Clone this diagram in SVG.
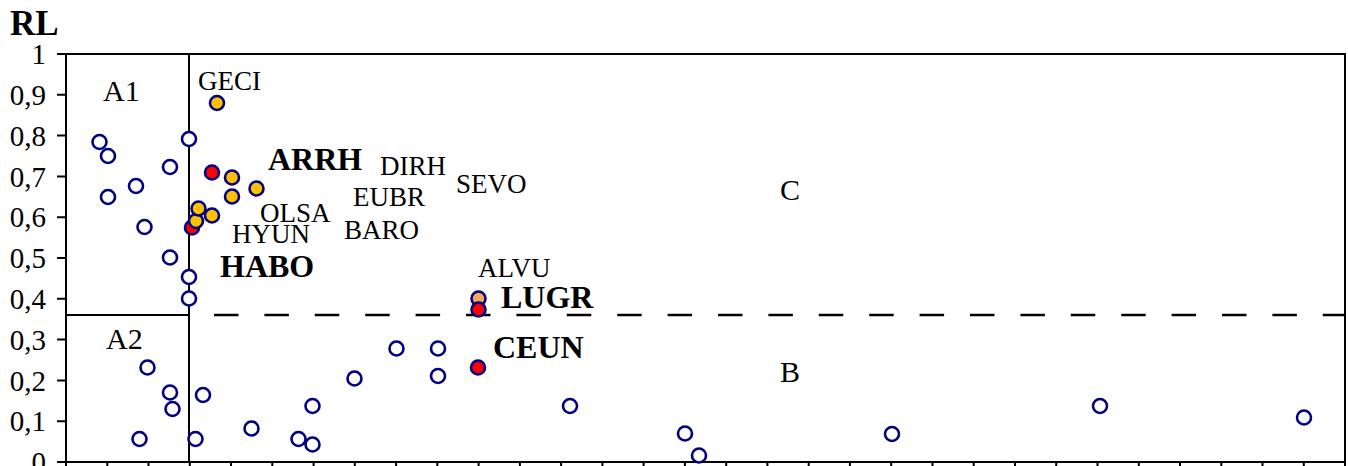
<svg xmlns="http://www.w3.org/2000/svg" width="1348" height="466" viewBox="0 0 1348 466">
<style>
text{font-family:"Liberation Serif","Times New Roman",serif;fill:#000}
.yl{font-size:29px;text-anchor:end}
.lb{font-size:27px}
.bd{font-size:32px;font-weight:bold}
.q{font-size:30px}
.ax{stroke:#000;stroke-width:2;fill:none}
.o{fill:#fff;stroke:#000080;stroke-width:2.6}
.y{fill:#FFC000;stroke:#000080;stroke-width:2.6}
.r{fill:#FF0000;stroke:#000080;stroke-width:2.6}
.l{fill:#F8A85A;stroke:#000080;stroke-width:2.6}
</style>
<rect width="1348" height="466" fill="#fff"/>
<text x="10" y="35" style="font-size:35px;font-weight:bold">RL</text>
<g id="axes">
<rect class="ax" x="66" y="54" width="1279" height="408"/>
<path class="ax" d="M57 54H66M57 94.8H66M57 135.6H66M57 176.4H66M57 217.2H66M57 258H66M57 298.8H66M57 339.6H66M57 380.4H66M57 421.2H66M57 462H66"/>
<path class="ax" d="M66 462V468M107.3 462V468M148.5 462V468M189.8 462V468M231 462V468M272.3 462V468M313.6 462V468M354.8 462V468M396.1 462V468M437.3 462V468M478.6 462V468M519.9 462V468M561.1 462V468M602.4 462V468M643.6 462V468M684.9 462V468M726.2 462V468M767.4 462V468M808.7 462V468M849.9 462V468M891.2 462V468M932.5 462V468M973.7 462V468M1015 462V468M1056.2 462V468M1097.5 462V468M1138.8 462V468M1180 462V468M1221.3 462V468M1262.5 462V468M1303.8 462V468M1345 462V468"/>
<g>
<text class="yl" x="46" y="64">1</text>
<text class="yl" x="46" y="105">0,9</text>
<text class="yl" x="46" y="146">0,8</text>
<text class="yl" x="46" y="187">0,7</text>
<text class="yl" x="46" y="227">0,6</text>
<text class="yl" x="46" y="268">0,5</text>
<text class="yl" x="46" y="309">0,4</text>
<text class="yl" x="46" y="350">0,3</text>
<text class="yl" x="46" y="391">0,2</text>
<text class="yl" x="46" y="431">0,1</text>
<text class="yl" x="46" y="472">0</text>
</g>
</g>
<g id="dividers">
<path class="ax" d="M189 54V462M66 315H189"/>
<path d="M214 315H1345" stroke="#000" stroke-width="2.5" stroke-dasharray="24.5 25.9" fill="none"/>
</g>
<g id="quadrants">
<text class="q" x="103" y="101">A1</text>
<text class="q" x="106" y="349">A2</text>
<text class="q" x="780" y="200">C</text>
<text class="q" x="780" y="382">B</text>
</g>
<g id="points-open">
<circle class="o" cx="99.5" cy="142" r="7"/>
<circle class="o" cx="108" cy="156" r="7"/>
<circle class="o" cx="108" cy="197" r="7"/>
<circle class="o" cx="136" cy="186" r="7"/>
<circle class="o" cx="170" cy="167" r="7"/>
<circle class="o" cx="189" cy="139" r="7"/>
<circle class="o" cx="144.5" cy="227" r="7"/>
<circle class="o" cx="170" cy="257.5" r="7"/>
<circle class="o" cx="189" cy="277" r="7"/>
<circle class="o" cx="189" cy="298.5" r="7"/>
<circle class="o" cx="147.5" cy="367.5" r="7"/>
<circle class="o" cx="170" cy="392.5" r="7"/>
<circle class="o" cx="172.5" cy="409" r="7"/>
<circle class="o" cx="139.5" cy="439" r="7"/>
<circle class="o" cx="195.5" cy="439" r="7"/>
<circle class="o" cx="203" cy="395" r="7"/>
<circle class="o" cx="251.5" cy="428.5" r="7"/>
<circle class="o" cx="298.5" cy="439" r="7"/>
<circle class="o" cx="312.5" cy="444.5" r="7"/>
<circle class="o" cx="312.5" cy="406" r="7"/>
<circle class="o" cx="354.5" cy="378.5" r="7"/>
<circle class="o" cx="396.5" cy="348.5" r="7"/>
<circle class="o" cx="438" cy="348.5" r="7"/>
<circle class="o" cx="438" cy="376" r="7"/>
<circle class="o" cx="570" cy="406" r="7"/>
<circle class="o" cx="685" cy="433.5" r="7"/>
<circle class="o" cx="699" cy="455.5" r="7"/>
<circle class="o" cx="892" cy="434" r="7"/>
<circle class="o" cx="1100" cy="406" r="7"/>
<circle class="o" cx="1304" cy="417.5" r="7"/>
</g>
<g id="points-filled">
<circle class="r" cx="192" cy="227.5" r="7"/>
<circle class="y" cx="196" cy="221" r="7"/>
<circle class="y" cx="198.5" cy="208.5" r="7"/>
<circle class="y" cx="212" cy="215.5" r="7"/>
<circle class="y" cx="217" cy="103" r="7"/>
<circle class="r" cx="212" cy="172.5" r="7"/>
<circle class="y" cx="232" cy="177.5" r="7"/>
<circle class="y" cx="232" cy="196.5" r="7"/>
<circle class="y" cx="256.5" cy="188.5" r="7"/>
<circle class="l" cx="478.5" cy="298.5" r="7"/>
<circle class="r" cx="478.5" cy="309.5" r="7"/>
<circle class="r" cx="478" cy="367.5" r="7"/>
</g>
<g id="labels">
<text class="lb" x="198" y="90">GECI</text>
<text class="bd" x="268" y="170">ARRH</text>
<text class="lb" x="380" y="175">DIRH</text>
<text class="lb" x="456" y="193">SEVO</text>
<text class="lb" x="353" y="206">EUBR</text>
<text class="lb" x="260" y="222">OLSA</text>
<text class="lb" x="344" y="239">BARO</text>
<text class="lb" x="232" y="243">HYUN</text>
<text class="bd" x="220" y="277">HABO</text>
<text class="lb" x="478" y="277">ALVU</text>
<text class="bd" x="501" y="308">LUGR</text>
<text class="bd" x="493" y="358">CEUN</text>
</g>
</svg>
